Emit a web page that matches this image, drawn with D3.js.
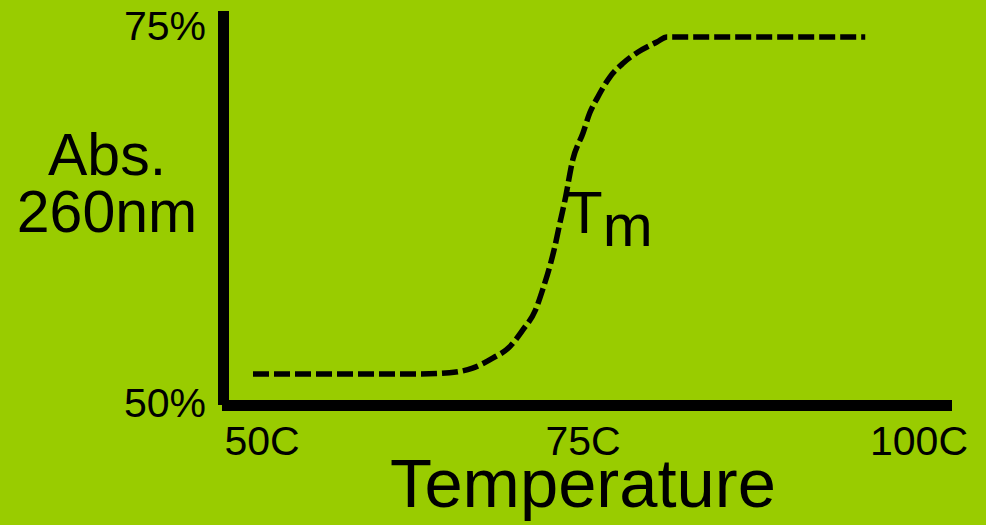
<!DOCTYPE html>
<html>
<head>
<meta charset="utf-8">
<script src="https://cdn.jsdelivr.net/npm/d3@7"></script>
<style>
  html, body { margin: 0; padding: 0; background: #99cc00; }
  svg { display: block; font-family: "Liberation Sans", Arial, sans-serif; }
</style>
</head>
<body>
<div id="chart"></div>
<script>
// melting curve, temperature (C) vs absorbance (%)
const tempTicks = [50, 75, 100];
const absTicks = [50, 75];
const temps = [49.3, 62.3, 64.6, 66.4, 68.0, 69.3, 70.3, 71.3, 71.9, 72.4, 72.8, 73.2, 73.6, 74.2, 75.0, 75.5, 76.1, 77.0, 78.0, 79.1, 80.5, 81.25, 96.0];
const absorb = [51.86, 51.86, 51.94, 52.25, 52.92, 53.67, 54.77, 56.10, 57.56, 58.95, 60.28, 61.87, 63.40, 66.05, 67.84, 69.16, 70.22, 71.55, 72.48, 73.21, 73.87, 74.20, 74.20];

const width = 986, height = 525;

const svg = d3.select("#chart").append("svg")
    .attr("width", width)
    .attr("height", height);

svg.append("rect")
    .attr("width", width)
    .attr("height", height)
    .attr("fill", "#99cc00");

const x = d3.scaleLinear().domain([50, 75, 100]).range([262, 583, 919]);
const y = d3.scaleLinear().domain([50, 75]).range([402, 25]);

// frame (thick axes)
svg.append("line")
    .attr("x1", 223.5).attr("x2", 223.5)
    .attr("y1", 11).attr("y2", 405)
    .attr("stroke", "#000").attr("stroke-width", 11);
svg.append("line")
    .attr("x1", 222).attr("x2", 952)
    .attr("y1", 405.5).attr("y2", 405.5)
    .attr("stroke", "#000").attr("stroke-width", 11);

// tick labels
svg.selectAll(".ylab")
    .data(absTicks)
    .enter().append("text")
    .attr("class", "ylab")
    .attr("x", 206)
    .attr("y", d => y(d) + 15)
    .attr("text-anchor", "end")
    .style("font-size", "41px")
    .text(d => d + "%");

svg.selectAll(".xlab")
    .data(tempTicks)
    .enter().append("text")
    .attr("class", "xlab")
    .attr("x", d => x(d))
    .attr("y", 455)
    .attr("text-anchor", "middle")
    .style("font-size", "41px")
    .text(d => d + "C");

// axis titles
svg.append("text")
    .attr("x", 583).attr("y", 507)
    .attr("text-anchor", "middle")
    .attr("textLength", 386)
    .attr("lengthAdjust", "spacingAndGlyphs")
    .style("font-size", "68px")
    .text("Temperature");

svg.append("text")
    .attr("x", 107).attr("y", 175)
    .attr("text-anchor", "middle")
    .style("font-size", "59px")
    .text("Abs.");
svg.append("text")
    .attr("x", 107).attr("y", 232)
    .attr("text-anchor", "middle")
    .style("font-size", "59px")
    .text("260nm");

// curve
const pts = temps.map((t, i) => [t, absorb[i]]);
const line = d3.line()
    .x(d => x(d[0]))
    .y(d => y(d[1]))
    .curve(d3.curveMonotoneX);

svg.append("path")
    .datum(pts)
    .attr("d", line)
    .attr("fill", "none")
    .attr("stroke", "#000")
    .attr("stroke-width", 5.5)
    .attr("stroke-dasharray", "16,5");

// Tm annotation
const tm = svg.append("text")
    .attr("x", 566).attr("y", 233)
    .style("font-size", "60px");
tm.append("tspan").text("T");
tm.append("tspan").attr("dy", 13).text("m");
</script>
</body>
</html>
